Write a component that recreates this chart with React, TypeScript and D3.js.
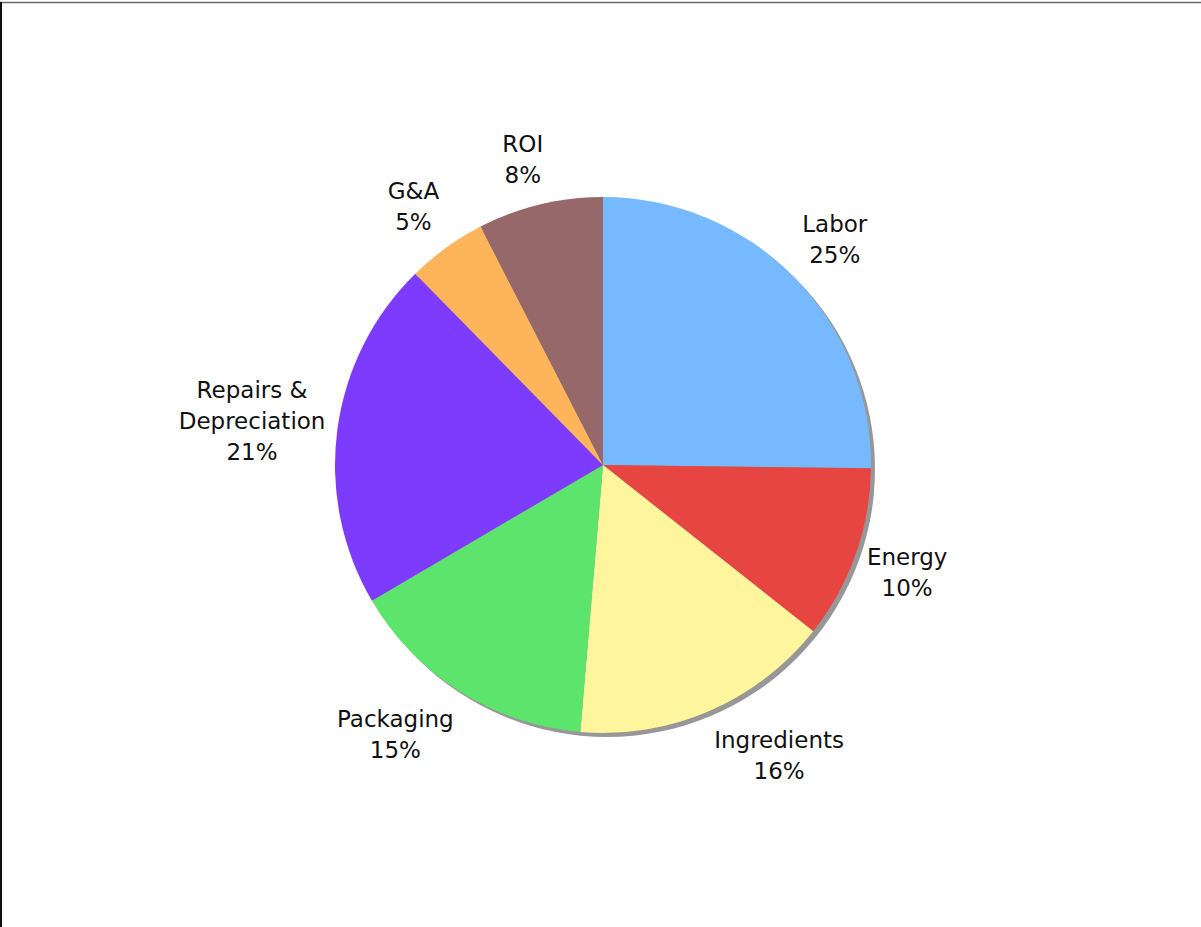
import { useMemo } from "react";
import * as d3 from "d3";

const W = 1201;
const H = 927;

const categories = [
  "Labor",
  "Energy",
  "Ingredients",
  "Packaging",
  "Repairs & Depreciation",
  "G&A",
  "ROI",
];
const shares = [25.2, 10.45, 15.7, 15.2, 21.1, 4.8, 7.55];
const colors = [
  "#77b9fe",
  "#e64541",
  "#fef59c",
  "#5ce46c",
  "#7d3bfe",
  "#feb45a",
  "#976869",
];
// how the labels wrap
const labelLines = [
  ["Labor"],
  ["Energy"],
  ["Ingredients"],
  ["Packaging"],
  ["Repairs &", "Depreciation"],
  ["G&A"],
  ["ROI"],
];

const FONT = "23px 'DejaVu Sans', Verdana, sans-serif";
const LINE = 31;
const CAP = 17;

export default function App() {
  const cx = 603;
  const cy = 465;
  const r = 268;
  // labels hang off a slightly taller ellipse round the pie
  const rx = r + 12;
  const ry = r + 22;

  const slices = useMemo(
    () =>
      d3
        .pie<number>()
        .sort(null)
        .value((d) => d)(shares),
    [],
  );

  const arc = d3
    .arc<d3.PieArcDatum<number>>()
    .innerRadius(0)
    .outerRadius(r);

  const total = d3.sum(shares);

  const measure = useMemo(() => {
    const ctx = document.createElement("canvas").getContext("2d")!;
    ctx.font = FONT;
    return (s: string) => ctx.measureText(s).width;
  }, []);

  const labels = slices.map((s, i) => {
    const pct = Math.round((shares[i] / total) * 100);
    const lines = [...labelLines[i], `${pct}%`];
    const w = d3.max(lines, measure) ?? 0;
    const h = CAP + (lines.length - 1) * LINE;
    const a = (s.startAngle + s.endAngle) / 2;
    const sin = Math.sin(a);
    const cos = Math.cos(a);
    const px = cx + rx * sin;
    const py = cy - ry * cos;
    const sx = Math.max(-1, Math.min(1, sin * 3));
    const sy = Math.max(-1, Math.min(1, -cos * 1.3));
    const lx = px + (sx * w) / 2;
    const ly = py + (sy * h) / 2;
    return { lines, x: lx, top: ly - h / 2 + CAP };
  });

  return (
    <svg
      width={W}
      height={H}
      style={{ position: "absolute", left: 0, top: 0, background: "#fff" }}
    >
      <line x1={0} x2={W} y1={2.5} y2={2.5} stroke="#6a6a6a" strokeWidth={1.5} />
      <line x1={1} x2={1} y1={2} y2={H} stroke="#111" strokeWidth={2} />
      <circle cx={cx + 4} cy={cy + 4} r={r} fill="#979797" />
      <g transform={`translate(${cx},${cy})`}>
        {slices.map((s, i) => (
          <path key={categories[i]} d={arc(s) ?? ""} fill={colors[i]} />
        ))}
      </g>
      {labels.map((l, i) => (
        <text
          key={categories[i]}
          x={l.x}
          y={l.top}
          textAnchor="middle"
          style={{ font: FONT }}
          fill="#111"
        >
          {l.lines.map((t, j) => (
            <tspan key={j} x={l.x} y={l.top + j * LINE}>
              {t}
            </tspan>
          ))}
        </text>
      ))}
    </svg>
  );
}
